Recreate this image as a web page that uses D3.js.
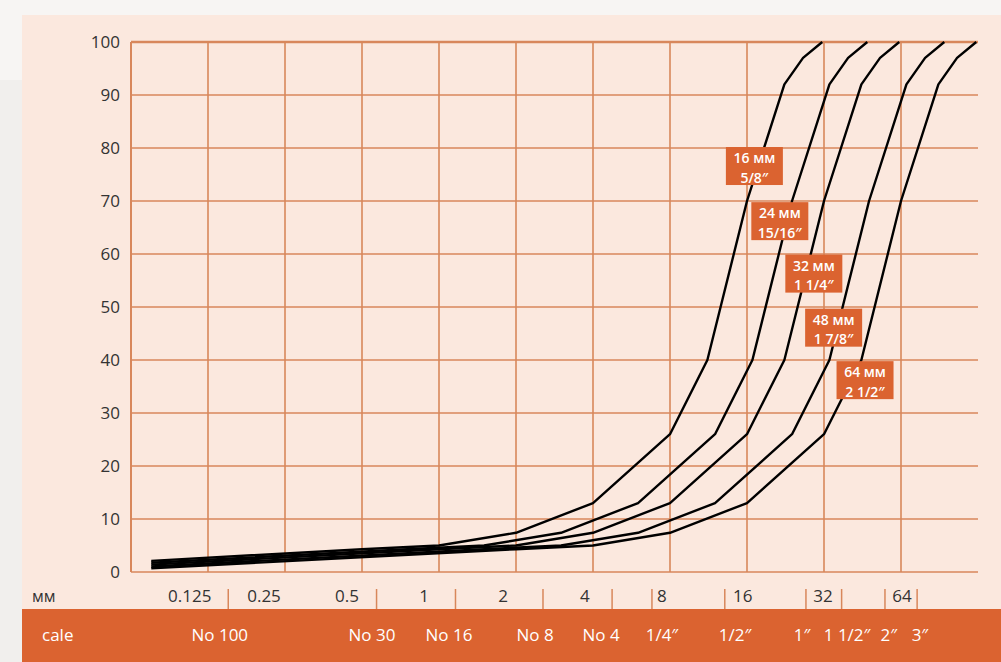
<!DOCTYPE html>
<html>
<head>
<meta charset="utf-8">
<script src="https://cdn.jsdelivr.net/npm/d3@7/dist/d3.min.js"></script>
<style>
  html, body { margin: 0; padding: 0; background: #f7f5f3; }
  svg { display: block; }
  text { font-family: "Open Sans", "Noto Sans", sans-serif; }
</style>
</head>
<body>
<svg id="chart" width="1001" height="662"></svg>
<script>
// ---------- DATA ----------
const yTicks = [0, 10, 20, 30, 40, 50, 60, 70, 80, 90, 100];
const gridSizes = [1/16, 1/8, 1/4, 1/2, 1, 2, 4, 8, 16, 32, 64];
const mmLabels = ["0.125", "0.25", "0.5", "1", "2", "4", "8", "16", "32", "64"];
const mmLabelAt = [0.106, 0.207, 0.437, 0.874, 1.78, 3.72, 7.44, 15.4, 31.7, 64.6];
const sieveSizes = [0.15, 0.57, 1.16, 2.55, 4.75, 6.8, 13.1, 27.2, 37.5, 55.4, 74];
const caleLabels = ["No 100", "No 30", "No 16", "No 8", "No 4", "1/4″", "1/2″", "1″", "1 1/2″", "2″", "3″"];
const caleLabelAt = [0.139, 0.547, 1.094, 2.374, 4.30, 7.44, 14.36, 26.25, 39.4, 57.4, 75.9];

const seriesNames = ["16 мм", "24 мм", "32 мм", "48 мм", "64 мм"];
const seriesInch = ["5/8″", "15/16″", "1 1/4″", "1 7/8″", "2 1/2″"];
const sizes16 = [0.075, 0.5, 1, 2, 4, 8, 11.2, 16, 22.4, 26.5, 31.5];
const pass16  = [2.1, 4.3, 5.0, 7.4, 13, 26, 40, 70, 92, 97, 100];
const sizes24 = [0.075, 0.75, 1.5, 3, 6, 12, 16.8, 24, 33.6, 39.75, 47.25];
const pass24  = [1.75, 4.3, 5.0, 7.4, 13, 26, 40, 70, 92, 97, 100];
const sizes32 = [0.075, 1, 2, 4, 8, 16, 22.4, 32, 44.8, 53, 63];
const pass32  = [1.4, 4.3, 5.0, 7.4, 13, 26, 40, 70, 92, 97, 100];
const sizes48 = [0.075, 1.5, 3, 6, 12, 24, 33.6, 48, 67.2, 79.5, 94.5];
const pass48  = [1.05, 4.3, 5.0, 7.4, 13, 26, 40, 70, 92, 97, 100];
const sizes64 = [0.075, 2, 4, 8, 16, 32, 44.8, 64, 89.6, 106, 126];
const pass64  = [0.7, 4.3, 5.0, 7.4, 13, 26, 40, 70, 92, 97, 100];
// label box anchor (centre) in data units
const labelAtSize = [17.1, 21.5, 29.2, 34.9, 46.3];
const labelAtPass = [76.6, 66.2, 56.3, 46.1, 36.2];

// ---------- CHART ----------
const svg = d3.select("#chart");
const ORANGE = "#db6330", PEACH = "#fbe8de", GRID = "#d8875b";

svg.append("rect").attr("x", 0).attr("y", 80).attr("width", 22).attr("height", 582).attr("fill", "#f1efed");
svg.append("rect").attr("x", 22).attr("y", 15).attr("width", 979).attr("height", 594).attr("fill", PEACH);
svg.append("rect").attr("x", 22).attr("y", 609).attr("width", 979).attr("height", 53).attr("fill", ORANGE);

const x = d3.scaleLog().base(2).domain([1/16, 128]).range([131, 978]);
const y = d3.scaleLinear().domain([0, 100]).range([572, 42]);

const g = svg.append("g");
g.selectAll("line.h").data(yTicks).join("line")
  .attr("x1", x(1/16)).attr("x2", x(128))
  .attr("y1", d => y(d)).attr("y2", d => y(d))
  .attr("stroke", GRID).attr("stroke-width", d => (d === 100 ? 2.3 : 1.6));
g.selectAll("line.v").data(gridSizes).join("line")
  .attr("x1", d => x(d)).attr("x2", d => x(d))
  .attr("y1", y(100)).attr("y2", y(0))
  .attr("stroke", GRID).attr("stroke-width", d => (d === 1/16 ? 2 : 1.6));

const yAxis = d3.axisLeft(y).tickValues(yTicks).tickSize(0).tickPadding(11);
const ya = svg.append("g").attr("transform", `translate(${x(1/16)},0)`).call(yAxis);
ya.select(".domain").remove();
ya.selectAll("text").attr("font-size", 17).attr("fill", "#333")
  .style("font-family", '"Open Sans", sans-serif');

svg.append("text").attr("x", 32).attr("y", 602).attr("font-size", 16).attr("fill", "#333").text("мм");
svg.selectAll("text.mm").data(mmLabels).join("text")
  .attr("x", (d, i) => x(mmLabelAt[i])).attr("y", 602)
  .attr("text-anchor", "middle").attr("font-size", 17).attr("fill", "#333")
  .text(d => d);
svg.selectAll("line.tk").data(sieveSizes).join("line")
  .attr("x1", d => x(d)).attr("x2", d => x(d))
  .attr("y1", 589).attr("y2", 609)
  .attr("stroke", GRID).attr("stroke-width", 1.5);

svg.append("text").attr("x", 42).attr("y", 641).attr("font-size", 17).attr("fill", "#fff").text("cale");
svg.selectAll("text.cale").data(caleLabels).join("text")
  .attr("x", (d, i) => x(caleLabelAt[i])).attr("y", 641)
  .attr("text-anchor", "middle").attr("font-size", 17).attr("font-weight", 500).attr("fill", "#fff")
  .text(d => d);

const allSizes = [sizes16, sizes24, sizes32, sizes48, sizes64];
const allPass = [pass16, pass24, pass32, pass48, pass64];
const line = d3.line().x(d => x(d[0])).y(d => y(d[1]));
allSizes.forEach((s, k) => {
  const pts = s.map((v, i) => [v, allPass[k][i]]);
  svg.append("path").attr("d", line(pts))
    .attr("fill", "none").attr("stroke", "#000").attr("stroke-width", 2.4)
    .attr("stroke-linejoin", "round").attr("stroke-linecap", "butt");
});

const bw = 57, bh = 38;
seriesNames.forEach((n, i) => {
  const cx = x(labelAtSize[i]), cy = y(labelAtPass[i]);
  const lg = svg.append("g").attr("transform", `translate(${cx},${cy})`);
  lg.append("rect").attr("x", -bw / 2).attr("y", -bh / 2).attr("width", bw).attr("height", bh).attr("fill", ORANGE);
  lg.append("text").attr("x", 0).attr("y", -3).attr("text-anchor", "middle")
    .attr("font-size", 14).attr("font-weight", 600).attr("fill", "#fff").text(n);
  lg.append("text").attr("x", 0).attr("y", 16.5).attr("text-anchor", "middle")
    .attr("font-size", 14).attr("font-weight", 600).attr("fill", "#fff").text(seriesInch[i]);
});
</script>
</body>
</html>
